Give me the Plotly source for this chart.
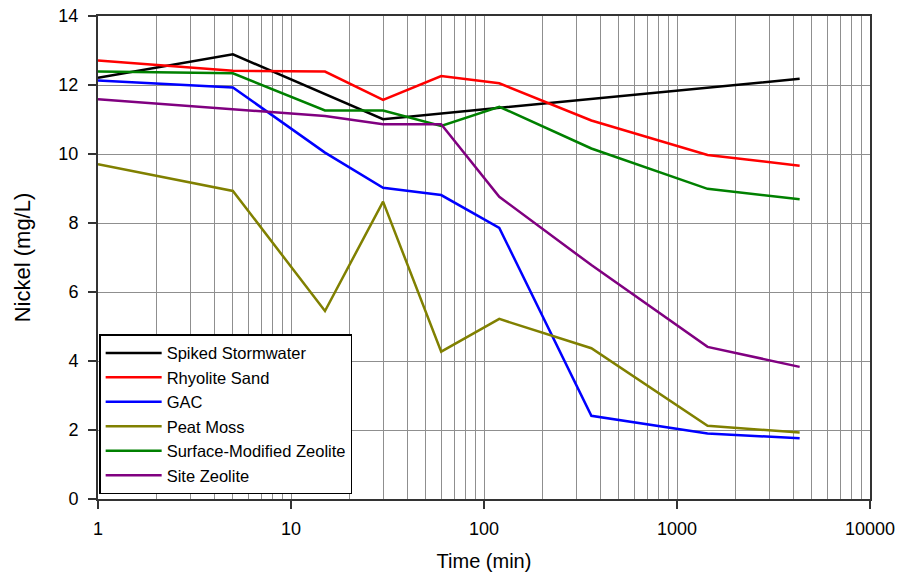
import plotly.graph_objects as go

time_min = [1, 5, 15, 30, 60, 120, 360, 1440, 4320]
spiked_time = [1, 5, 30, 4320]
spiked = [12.21, 12.89, 11.01, 12.18]
rhyolite = [12.71, 12.41, 12.39, 11.57, 12.26, 12.05, 10.97, 9.97, 9.66]
gac = [12.13, 11.93, 10.04, 9.02, 8.81, 7.86, 2.41, 1.90, 1.76]
peat = [9.70, 8.93, 5.45, 8.62, 4.27, 5.22, 4.37, 2.12, 1.93]
smz = [12.39, 12.34, 11.26, 11.26, 10.81, 11.37, 10.16, 8.99, 8.69]
site = [11.59, 11.30, 11.10, 10.86, 10.86, 8.76, 6.78, 4.41, 3.83]

x_ticks = [1, 10, 100, 1000, 10000]
x_tick_labels = ["1", "10", "100", "1000", "10000"]
y_ticks = [0, 2, 4, 6, 8, 10, 12, 14]

series = [
    ("Spiked Stormwater", spiked_time, spiked, "#000000"),
    ("Rhyolite Sand", time_min, rhyolite, "#ff0000"),
    ("GAC", time_min, gac, "#0000ff"),
    ("Peat Moss", time_min, peat, "#808000"),
    ("Surface-Modified Zeolite", time_min, smz, "#008000"),
    ("Site Zeolite", time_min, site, "#800080"),
]

fig = go.Figure()
for name, xs, ys, col in series:
    fig.add_trace(go.Scatter(x=xs, y=ys, mode="lines", name=name,
                             line=dict(color=col, width=2.5)))

grid_col = "#8f8f8f"
fig.update_layout(
    width=902, height=575,
    margin=dict(l=98, r=32, t=16, b=76),
    paper_bgcolor="white", plot_bgcolor="white",
    font=dict(family="Arial, Liberation Sans, sans-serif", color="black", size=16),
    showlegend=True,
    legend=dict(x=0.0015, y=0.01, xanchor="left", yanchor="bottom",
                bgcolor="white", bordercolor="black", borderwidth=1.5,
                font=dict(size=16.5), tracegroupgap=0, itemwidth=56),
    xaxis=dict(type="log", range=[0, 4], tickvals=x_ticks, ticktext=x_tick_labels,
               automargin=False,
               showgrid=True, gridcolor=grid_col, gridwidth=1.2,
               minor=dict(dtick="D1", showgrid=True, gridcolor=grid_col, gridwidth=1.2,
                          ticks=""),
               ticks="outside", ticklen=8, tickcolor="#333333", tickwidth=1.5,
               showline=True, linecolor="#333333", linewidth=2, mirror=True,
               zeroline=False, ticklabelstandoff=4,
               title=dict(text="Time (min)", font=dict(size=20), standoff=16),
               tickfont=dict(size=18)),
    yaxis=dict(range=[0, 14], tickvals=y_ticks, automargin=False,
               showgrid=True, gridcolor=grid_col, gridwidth=1.2,
               ticks="outside", ticklen=8, tickcolor="#333333", tickwidth=1.5,
               showline=True, linecolor="#333333", linewidth=2, mirror=True,
               zeroline=False, ticklabelstandoff=6,
               title=dict(text="Nickel (mg/L)", font=dict(size=22), standoff=22),
               tickfont=dict(size=18)),
)

fig.write_html("out.html")
